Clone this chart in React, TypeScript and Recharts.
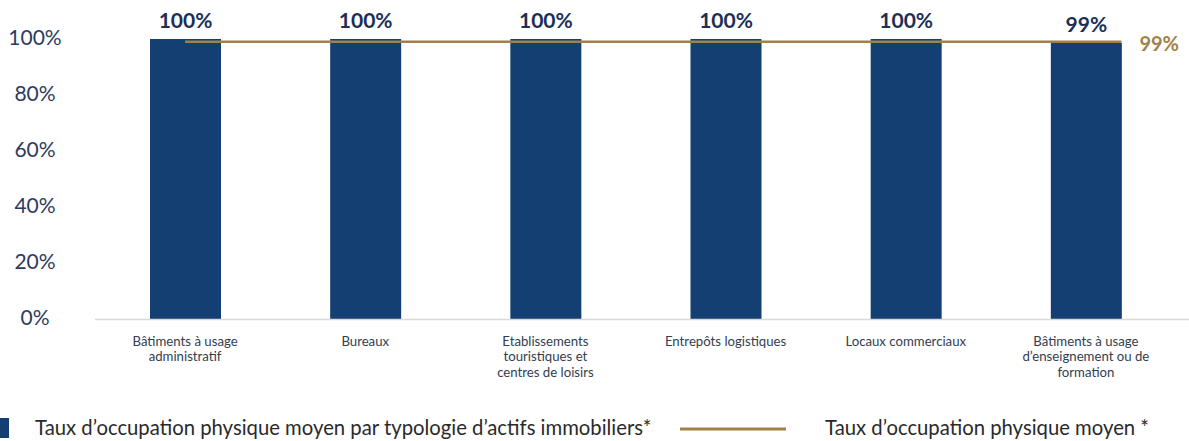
import React from "react";
import { ComposedChart, Bar, XAxis, YAxis, ReferenceLine, LabelList, Customized } from "recharts";

const categories = [
  "Bâtiments à usage administratif",
  "Bureaux",
  "Etablissements touristiques et centres de loisirs",
  "Entrepôts logistiques",
  "Locaux commerciaux",
  "Bâtiments à usage d'enseignement ou de formation",
];
const categoryLines: string[][] = [
  ["Bâtiments à usage", "administratif"],
  ["Bureaux"],
  ["Etablissements", "touristiques et", "centres de loisirs"],
  ["Entrepôts logistiques"],
  ["Locaux commerciaux"],
  ["Bâtiments à usage", "d’enseignement ou de", "formation"],
];
const occupancy = [100, 100, 100, 100, 100, 98.6];
const averageOccupancy = 99;
const yTicks = [0, 20, 40, 60, 80, 100];
const seriesName = "Taux d’occupation physique moyen par typologie d’actifs immobiliers*";
const averageName = "Taux d’occupation physique moyen *";

const BLUE = "#143F72";
const GOLD = "#A08149";
const NAVY = "#1B2F57";
const FONT = "Lato, 'Noto Sans', sans-serif";
const BAR = 71;
const RIGHT = 13;

const data = categories.map((c, i) => ({ cat: c, value: occupancy[i] }));

const YTick = (props: any) => {
  const { y, payload } = props;
  return (
    <text x={35} y={y - 3} textAnchor="middle" dominantBaseline="central" fontFamily={FONT} fontSize={21} fill="#2B3C60">
      {payload.value}%
    </text>
  );
};

const XTick = (props: any) => {
  const { x, y, payload, index } = props;
  const lines = categoryLines[index] ?? [payload.value];
  return (
    <text x={x} y={y + 18.5} textAnchor="middle" fontFamily={FONT} fontSize={13.2} fill="#333D50">
      {lines.map((l: string, i: number) => (
        <tspan key={i} x={x} dy={i === 0 ? 0 : 15.5}>{l}</tspan>
      ))}
    </text>
  );
};

const AvgShape = (props: any) => {
  const { x1, y1, x2, y2 } = props;
  const xe = x2 + BAR / 2;
  return (
    <g>
      <line x1={x1} y1={y1} x2={xe} y2={y2} stroke={GOLD} strokeWidth={2.5} />
      <text x={xe + 18} y={y2 + 1} dominantBaseline="central" fontFamily={FONT} fontWeight={700} fontSize={20} fill={GOLD}>
        {Math.round(averageOccupancy)}%
      </text>
    </g>
  );
};

const BaseShape = (props: any) => {
  const { x1, y1, x2, y2 } = props;
  return <line x1={x1} y1={y1 + 0.5} x2={x2 + RIGHT} y2={y2 + 0.5} stroke="#D9D9D9" strokeWidth={1.5} />;
};

const LegendRow = () => (
  <g>
    <rect x={0} y={418} width={9} height={20} fill={BLUE} />
    <text x={35} y={435} fontFamily={FONT} fontSize={20.3} fill="#2A2A2A">{seriesName}</text>
    <line x1={680} y1={429} x2={786} y2={429} stroke={GOLD} strokeWidth={3} />
    <text x={825} y={435} fontFamily={FONT} fontSize={20.3} fill="#2A2A2A">{averageName}</text>
  </g>
);

export default function App() {
  return (
    <div style={{ width: 1173, height: 433 }}>
      <div style={{ position: "fixed", left: 0, top: 0, width: 1189, height: 441, fontFamily: FONT, background: "#fff" }}>
        <ComposedChart width={1189} height={441} data={data} margin={{ top: 39, right: RIGHT, bottom: 52, left: 0 }}>
          <XAxis
            dataKey="cat"
            interval={0}
            tickLine={false}
            axisLine={false}
            tick={<XTick />}
            height={70}
          />
          <YAxis
            domain={[0, 100]}
            ticks={yTicks}
            width={95}
            axisLine={false}
            tickLine={false}
            tick={<YTick />}
          />
          <ReferenceLine y={0} shape={<BaseShape />} ifOverflow="visible" />
          <Bar dataKey="value" fill={BLUE} barSize={BAR} isAnimationActive={false}>
            <LabelList
              dataKey="value"
              position="top"
              offset={11}
              formatter={(v: any) => `${Math.round(Number(v))}%`}
              style={{ fontFamily: FONT, fontWeight: 700, fontSize: 21, fill: NAVY }}
            />
          </Bar>
          <ReferenceLine
            segment={[
              { x: categories[0], y: averageOccupancy },
              { x: categories[categories.length - 1], y: averageOccupancy },
            ]}
            shape={<AvgShape />}
            ifOverflow="visible"
          />
          <Customized component={<LegendRow />} />
        </ComposedChart>
      </div>
    </div>
  );
}
